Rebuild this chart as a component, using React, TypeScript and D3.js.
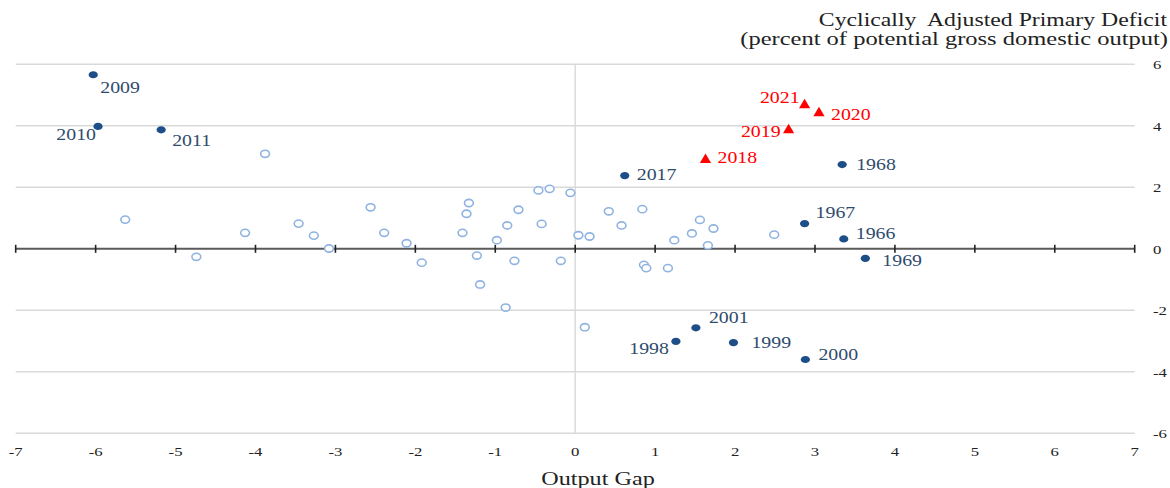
import React from 'react';
import * as d3 from 'd3';

// ---- Data ----
const highlightYears = ['2009', '2010', '2011', '2017', '1968', '1967', '1966', '1969', '2001', '1998', '1999', '2000'];
const highlightGap = [-6.03, -5.97, -5.18, 0.62, 3.34, 2.87, 3.36, 3.63, 1.51, 1.26, 1.98, 2.88];
const highlightDeficit = [5.66, 3.98, 3.87, 2.38, 2.74, 0.82, 0.32, -0.31, -2.57, -3.01, -3.05, -3.6];

const recentYears = ['2018', '2019', '2020', '2021'];
const recentGap = [1.63, 2.67, 3.05, 2.87];
const recentDeficit = [2.93, 3.9, 4.45, 4.71];

const otherGap = [
  -5.63, -4.74, -4.13, -3.88, -3.46, -3.27, -3.08, -2.56, -2.39, -2.11, -1.92,
  -1.33, -1.36, -1.41, -1.23, -1.19, -0.98, -0.85, -0.71, -0.76, -0.87,
  -0.46, -0.32, -0.42, -0.06, -0.18, 0.04, 0.18, 0.12, 0.42, 0.58, 0.84,
  0.86, 0.89, 1.16, 1.24, 1.46, 1.56, 1.73, 1.66, 2.49,
];
const otherDeficit = [
  0.95, -0.26, 0.52, 3.09, 0.82, 0.43, 0.01, 1.35, 0.52, 0.18, -0.45,
  1.49, 1.14, 0.52, -0.22, -1.16, 0.28, 0.76, 1.27, -0.39, -1.91,
  1.9, 1.95, 0.81, 1.82, -0.39, 0.44, 0.4, -2.55, 1.22, 0.76, 1.29,
  -0.52, -0.63, -0.63, 0.28, 0.5, 0.94, 0.66, 0.11, 0.46,
];

const xTicks = [-7, -6, -5, -4, -3, -2, -1, 0, 1, 2, 3, 4, 5, 6, 7];
const yTicks = [-6, -4, -2, 0, 2, 4, 6];

const titleLines = ['Cyclically  Adjusted Primary Deficit', '(percent of potential gross domestic output)'];
const xAxisTitle = 'Output Gap';

// ---- Layout (label placement offsets, px) ----
const labelPlacement: Record<string, [string, number, number]> = {
  '2009': ['start', 7, 18],
  '2010': ['end', -2, 14],
  '2011': ['start', 11, 16],
  '2017': ['start', 12, 4],
  '1968': ['start', 14, 5],
  '1967': ['start', 11, -6],
  '1966': ['start', 12, 0],
  '1969': ['start', 17, 8],
  '2001': ['start', 13, -5],
  '1998': ['end', -7, 13],
  '1999': ['start', 18, 5],
  '2000': ['start', 13, 0],
  '2018': ['start', 12, 4],
  '2019': ['end', -8, 8],
  '2020': ['start', 12, 8],
  '2021': ['end', -5, -1],
};

const W = 1170;
const H = 488;
const SX = 1.24;
const FONT = '"Liberation Serif", "Times New Roman", serif';

const x = d3.scaleLinear().domain([-7, 7]).range([15.7, 1134.7]);
const y = d3.scaleLinear().domain([-6, 6]).range([433.3, 64.3]);

function SText(props: {
  x: number; y: number; anchor?: string; size: number; fill: string; sx?: number; children: React.ReactNode;
}) {
  const { anchor = 'start', size, fill, children, sx = SX } = props;
  return (
    <text
      transform={`translate(${props.x},${props.y}) scale(${sx},1)`}
      textAnchor={anchor}
      fontSize={size}
      fill={fill}
      fontFamily={FONT}
      style={{ whiteSpace: 'pre' }}
    >
      {children}
    </text>
  );
}

const BLUE_DARK = '#1d4e87';
const BLUE_LABEL = '#2f4b6e';
const BLUE_LIGHT = '#8fb3e0';
const RED = '#ff0000';
const GRID = '#d9d9d9';

export default function App() {
  const y0 = y(0);
  const triangle = 'M0,-5.2 L5.6,4.3 L-5.6,4.3 Z';
  return (
    <svg
      width={W}
      height={H}
      style={{ position: 'absolute', left: 0, top: 0, background: '#fff' }}
    >
      <rect x={0} y={0} width={W} height={H} fill="#fff" />
      {/* gridlines */}
      {yTicks.filter((t) => t !== 0).map((t) => (
        <line key={t} x1={x(-7)} x2={x(7)} y1={y(t)} y2={y(t)} stroke={GRID} strokeWidth={1.5} />
      ))}
      {/* vertical zero line */}
      <line x1={x(0)} x2={x(0)} y1={y(6)} y2={y(-6)} stroke={GRID} strokeWidth={1.4} />
      {/* zero axis */}
      <line x1={x(-7)} x2={x(7)} y1={y0} y2={y0} stroke="#5a5a5a" strokeWidth={2} />
      {xTicks.map((t) => (
        <line key={t} x1={x(t)} x2={x(t)} y1={y0 - 4} y2={y0 + 4} stroke="#222" strokeWidth={1.6} />
      ))}
      {/* x tick labels */}
      {xTicks.map((t) => (
        <SText key={t} x={x(t)} y={456} anchor="middle" size={13.5} fill="#222">
          {String(t)}
        </SText>
      ))}
      {/* y tick labels (right) */}
      {yTicks.map((t) => (
        <SText key={t} x={1153} y={y(t) + 4.8} anchor="start" size={13.5} fill="#222">
          {String(t)}
        </SText>
      ))}
      {/* titles */}
      <SText x={1167} y={26} anchor="end" size={19} sx={1.25} fill="#222">{titleLines[0]}</SText>
      <SText x={1168} y={44.5} anchor="end" size={19} sx={1.29} fill="#222">{titleLines[1]}</SText>
      <SText x={598} y={484.5} anchor="middle" size={19.5} fill="#222">{xAxisTitle}</SText>

      {/* other years: open circles */}
      {otherGap.map((g, i) => (
        <ellipse
          key={i}
          cx={x(g)}
          cy={y(otherDeficit[i])}
          rx={4.4}
          ry={3.6}
          fill="#fff"
          stroke={BLUE_LIGHT}
          strokeWidth={1.6}
        />
      ))}
      {/* highlighted years */}
      {highlightGap.map((g, i) => (
        <ellipse key={i} cx={x(g)} cy={y(highlightDeficit[i])} rx={4.6} ry={3.6} fill={BLUE_DARK} />
      ))}
      {highlightYears.map((yr, i) => {
        const [anchor, dx, dy] = labelPlacement[yr];
        return (
          <SText key={yr} x={x(highlightGap[i]) + dx} y={y(highlightDeficit[i]) + dy} anchor={anchor} size={16} fill={BLUE_LABEL}>
            {yr}
          </SText>
        );
      })}
      {/* recent years: red triangles */}
      {recentGap.map((g, i) => (
        <path key={i} d={triangle} transform={`translate(${x(g)},${y(recentDeficit[i])})`} fill={RED} />
      ))}
      {recentYears.map((yr, i) => {
        const [anchor, dx, dy] = labelPlacement[yr];
        return (
          <SText key={yr} x={x(recentGap[i]) + dx} y={y(recentDeficit[i]) + dy} anchor={anchor} size={16} fill={RED}>
            {yr}
          </SText>
        );
      })}
    </svg>
  );
}
